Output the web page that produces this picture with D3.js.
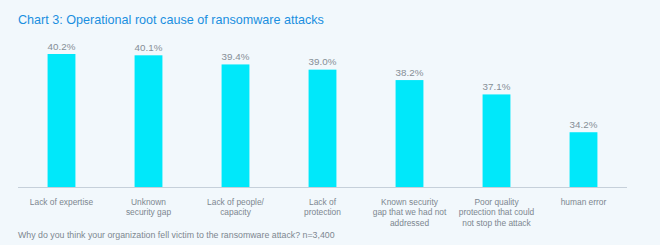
<!DOCTYPE html>
<html>
<head>
<meta charset="utf-8">
<script src="https://cdn.jsdelivr.net/npm/d3@7"></script>
<style>
  html, body { margin: 0; padding: 0; background: #f2f8fc; }
  svg { display: block; font-family: "Liberation Sans", Arial, sans-serif; }
</style>
</head>
<body>
<svg id="chart" width="660" height="245"></svg>
<script>
const categories = [
  ["Lack of expertise"],
  ["Unknown", "security gap"],
  ["Lack of people/", "capacity"],
  ["Lack of", "protection"],
  ["Known security", "gap that we had not", "addressed"],
  ["Poor quality", "protection that could", "not stop the attack"],
  ["human error"]
];
const values = [40.2, 40.1, 39.4, 39.0, 38.2, 37.1, 34.2];
const title = "Chart 3: Operational root cause of ransomware attacks";
const footnote = "Why do you think your organization fell victim to the ransomware attack? n=3,400";

const W = 660, H = 245;
const svg = d3.select('#chart');
svg.append('rect').attr('width', W).attr('height', H).attr('fill', '#f2f8fc');

const x = d3.scaleBand().domain(d3.range(values.length)).range([18, 627]).paddingInner(0.68).paddingOuter(0.34);
const y = d3.scaleLinear().domain([30, 40.2]).range([187, 54]);

svg.append('text').attr('x', 18).attr('y', 24).attr('fill', '#1a8fe0')
  .attr('font-size', '12.6px').text(title);

svg.append('g').selectAll('rect').data(values).join('rect')
  .attr('x', (d, i) => x(i)).attr('width', x.bandwidth())
  .attr('y', d => y(d)).attr('height', d => y(30) - y(d))
  .attr('fill', '#00e8fa');

svg.append('line').attr('x1', 18).attr('x2', 627).attr('y1', 187.5).attr('y2', 187.5)
  .attr('stroke', '#c6d0da').attr('stroke-width', 1);

svg.append('g').selectAll('text').data(values).join('text')
  .attr('x', (d, i) => x(i) + x.bandwidth() / 2).attr('y', d => y(d) - 4.5)
  .attr('text-anchor', 'middle').attr('fill', '#858e96').attr('font-size', '9.8px')
  .text(d => d.toFixed(1) + '%');

const lbl = svg.append('g').selectAll('text').data(categories).join('text')
  .attr('text-anchor', 'middle').attr('fill', '#7d8790').attr('font-size', '8.4px')
  .attr('transform', (d, i) => `translate(${x(i) + x.bandwidth() / 2},204.5)`);
lbl.selectAll('tspan').data(d => d).join('tspan')
  .attr('x', 0).attr('dy', (d, i) => i ? 10.6 : 0).text(d => d);

svg.append('text').attr('x', 18).attr('y', 238).attr('fill', '#7d8790')
  .attr('font-size', '8.8px').text(footnote);
</script>
</body>
</html>
